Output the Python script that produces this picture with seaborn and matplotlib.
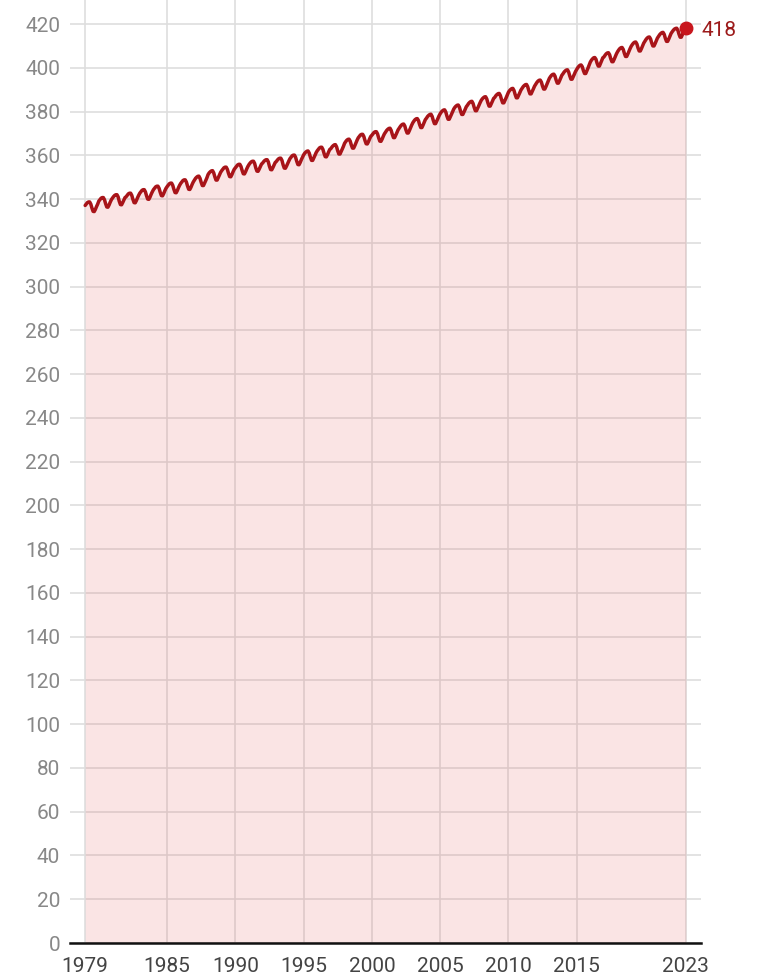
import pandas as pd
import numpy as np
import seaborn as sns
import matplotlib.pyplot as plt

# monthly CO2 (ppm), one row per year, Jan..Dec, starting Jan 1979
start = '1979-01-01'
co2 = [
    337.1, 337.8, 338.4, 338.7, 338.7, 337.7, 335.9, 334.4, 334.3, 335.3, 336.6, 337.7,  # 1979
    339.1, 339.8, 340.4, 340.7, 340.7, 339.7, 337.9, 336.4, 336.3, 337.3, 338.6, 339.7,  # 1980
    340.5, 341.2, 341.7, 342.0, 342.0, 341.0, 339.0, 337.5, 337.4, 338.4, 339.6, 340.7,
    341.1, 341.8, 342.4, 342.7, 342.7, 341.7, 339.9, 338.4, 338.3, 339.3, 340.6, 341.7,
    342.7, 343.4, 344.0, 344.3, 344.3, 343.3, 341.5, 340.0, 339.9, 340.9, 342.2, 343.3,
    344.3, 345.0, 345.6, 345.9, 345.9, 344.9, 343.1, 341.6, 341.5, 342.5, 343.8, 344.9,
    345.7, 346.4, 347.0, 347.3, 347.3, 346.3, 344.5, 343.0, 342.9, 343.9, 345.2, 346.3,  # 1985
    347.2, 347.9, 348.5, 348.8, 348.8, 347.8, 346.0, 344.5, 344.4, 345.4, 346.7, 347.8,
    348.7, 349.5, 350.0, 350.4, 350.5, 349.5, 347.7, 346.2, 346.2, 347.3, 348.5, 349.7,
    351.2, 352.0, 352.5, 352.9, 353.0, 352.0, 350.2, 348.7, 348.7, 349.8, 351.0, 352.2,
    353.0, 353.7, 354.3, 354.6, 354.6, 353.6, 351.8, 350.3, 350.2, 351.2, 352.5, 353.6,
    354.3, 355.0, 355.6, 355.9, 355.9, 354.9, 353.1, 351.6, 351.5, 352.5, 353.8, 354.9,  # 1990
    355.8, 356.5, 357.0, 357.3, 357.3, 356.3, 354.3, 352.8, 352.7, 353.7, 354.9, 356.0,
    356.5, 357.2, 357.7, 358.0, 358.0, 357.0, 355.0, 353.5, 353.4, 354.4, 355.6, 356.7,
    357.2, 357.9, 358.4, 358.7, 358.7, 357.7, 355.7, 354.2, 354.1, 355.1, 356.3, 357.4,
    358.5, 359.2, 359.8, 360.1, 360.1, 359.1, 357.3, 355.8, 355.7, 356.7, 358.0, 359.1,
    360.2, 361.0, 361.5, 361.9, 362.0, 361.0, 359.2, 357.7, 357.7, 358.8, 360.0, 361.2,  # 1995
    362.1, 362.8, 363.4, 363.7, 363.7, 362.7, 360.9, 359.4, 359.3, 360.3, 361.6, 362.7,
    363.1, 363.9, 364.4, 364.8, 364.9, 363.9, 362.1, 360.6, 360.6, 361.7, 362.9, 364.1,
    365.5, 366.3, 366.9, 367.3, 367.4, 366.5, 364.7, 363.3, 363.3, 364.4, 365.7, 366.9,
    368.0, 368.7, 369.3, 369.6, 369.6, 368.6, 366.8, 365.3, 365.2, 366.2, 367.5, 368.6,
    369.2, 369.9, 370.5, 370.8, 370.8, 369.8, 368.0, 366.5, 366.4, 367.4, 368.7, 369.8,  # 2000
    370.6, 371.4, 371.9, 372.3, 372.4, 371.4, 369.6, 368.1, 368.1, 369.2, 370.4, 371.6,
    372.4, 373.2, 373.8, 374.2, 374.3, 373.4, 371.6, 370.2, 370.2, 371.3, 372.6, 373.8,
    374.9, 375.7, 376.3, 376.7, 376.8, 375.9, 374.1, 372.7, 372.7, 373.8, 375.1, 376.3,
    377.0, 377.8, 378.3, 378.7, 378.8, 377.8, 376.0, 374.5, 374.5, 375.6, 376.8, 378.0,
    379.0, 379.8, 380.3, 380.7, 380.8, 379.8, 378.0, 376.5, 376.5, 377.6, 378.8, 380.0,  # 2005
    381.2, 382.0, 382.5, 382.9, 383.0, 382.0, 380.2, 378.7, 378.7, 379.8, 381.0, 382.2,
    382.9, 383.7, 384.2, 384.6, 384.7, 383.7, 381.9, 380.4, 380.4, 381.5, 382.7, 383.9,
    385.0, 385.8, 386.3, 386.7, 386.8, 385.8, 384.0, 382.5, 382.5, 383.6, 384.8, 386.0,
    386.5, 387.3, 387.8, 388.2, 388.3, 387.3, 385.5, 384.0, 384.0, 385.1, 386.3, 387.5,
    388.8, 389.6, 390.1, 390.5, 390.6, 389.6, 387.8, 386.3, 386.3, 387.4, 388.6, 389.8,  # 2010
    390.6, 391.4, 391.9, 392.3, 392.4, 391.4, 389.6, 388.1, 388.1, 389.2, 390.4, 391.6,
    392.5, 393.3, 393.9, 394.3, 394.4, 393.5, 391.7, 390.3, 390.3, 391.4, 392.7, 393.9,
    395.2, 396.0, 396.6, 397.0, 397.1, 396.2, 394.4, 393.0, 393.0, 394.1, 395.4, 396.6,
    397.3, 398.1, 398.6, 399.0, 399.1, 398.1, 396.3, 394.8, 394.8, 395.9, 397.1, 398.3,
    399.2, 400.1, 400.7, 401.2, 401.3, 400.5, 398.7, 397.4, 397.4, 398.6, 399.9, 401.2,  # 2015
    402.6, 403.5, 404.1, 404.6, 404.7, 403.9, 402.1, 400.8, 400.8, 402.0, 403.3, 404.6,
    405.0, 405.8, 406.4, 406.8, 406.9, 406.0, 404.2, 402.8, 402.8, 403.9, 405.2, 406.4,
    407.4, 408.2, 408.8, 409.2, 409.3, 408.4, 406.6, 405.2, 405.2, 406.3, 407.6, 408.8,
    409.9, 410.7, 411.3, 411.7, 411.8, 410.9, 409.1, 407.7, 407.7, 408.8, 410.1, 411.3,
    412.2, 413.0, 413.6, 414.0, 414.1, 413.2, 411.4, 410.0, 410.0, 411.1, 412.4, 413.6,  # 2020
    414.4, 415.2, 415.7, 416.1, 416.2, 415.3, 413.5, 412.1, 412.1, 413.2, 414.5, 415.7,
    416.5, 417.2, 417.7, 418.0, 418.1, 417.2, 415.4, 414.0, 414.0, 415.2, 416.6, 417.8,
    418.4,  # Jan 2023
]
xtick_years = [1979, 1985, 1990, 1995, 2000, 2005, 2010, 2015, 2023]
yticks = list(range(0, 421, 20))

df = pd.DataFrame({'date': pd.date_range(start, periods=len(co2), freq='MS'), 'co2': co2})

sns.set_theme(style='whitegrid')
plt.rcParams['font.family'] = ['Roboto', 'DejaVu Sans']

fig = plt.figure(figsize=(7.58, 9.77), dpi=100)
ax = fig.add_axes([0.0923, 0.0348, 0.8325, 0.9652])

line_col = '#a81419'
dot_col = '#c8161d'

ax.fill_between(df['date'], 0, df['co2'], color='#e05050', alpha=0.15, lw=0, zorder=3)
sns.lineplot(data=df, x='date', y='co2', color=line_col, linewidth=2.5, ax=ax, zorder=4)

last = df.iloc[-1]
ax.plot(last['date'], last['co2'], 'o', color=dot_col, markersize=9, zorder=5)
ax.annotate(f"{int(last['co2'])}", (last['date'], last['co2']), xytext=(11, -2),
            textcoords='offset points', va='center', ha='left', fontsize=15, color='#9c1a1a')

ax.set_xlim(pd.Timestamp('1977-11-20'), pd.Timestamp('2024-02-10'))
ax.set_ylim(0, 431)
ax.set_yticks(yticks)
ax.set_xticks([pd.Timestamp(f'{y}-01-01') for y in xtick_years])
ax.set_xticklabels([str(y) for y in xtick_years])

ax.grid(True, color='#dedede', linewidth=1.2)
ax.set_axisbelow(True)
for s in ['top', 'right', 'left']:
    ax.spines[s].set_visible(False)
ax.spines['bottom'].set_visible(True)
ax.spines['bottom'].set_color('#111111')
ax.spines['bottom'].set_linewidth(1.8)
ax.spines['bottom'].set_zorder(6)

ax.tick_params(axis='y', length=0, pad=7, labelsize=15, labelcolor='#888888')
ax.tick_params(axis='x', length=0, pad=10, labelsize=15, labelcolor='#444444')
ax.set_xlabel('')
ax.set_ylabel('')
ax.set_facecolor('white')

fig.savefig('out.png', dpi=100)
